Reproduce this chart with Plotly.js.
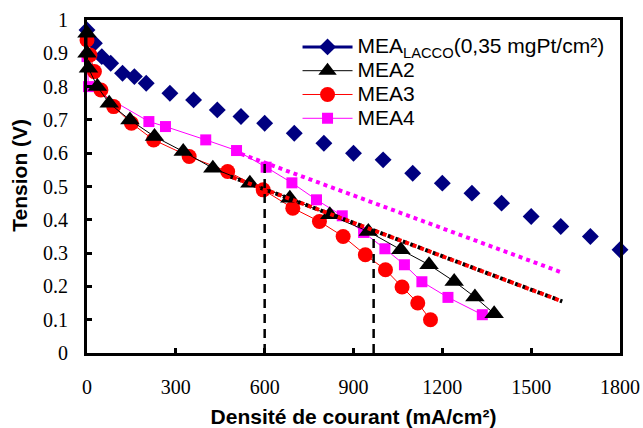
<!DOCTYPE html>
<html>
<head>
<meta charset="utf-8">
<script src="https://cdn.plot.ly/plotly-3.0.1.min.js"></script>
<style>html,body{margin:0;padding:0;background:#fff;}#chart{width:643px;height:428px;}</style>
</head>
<body>
<div id="chart"></div>
<script>
// Current density (mA/cm²) and voltage (V) for each MEA
const laccoX = [0, 25, 50, 80, 120, 160, 200, 280, 360, 440, 520, 600, 700, 800, 900, 1000, 1100, 1200, 1300, 1400, 1500, 1600, 1700, 1800];
const laccoY = [0.97, 0.93, 0.89, 0.87, 0.84, 0.83, 0.81, 0.78, 0.76, 0.73, 0.71, 0.69, 0.66, 0.63, 0.60, 0.58, 0.54, 0.51, 0.48, 0.45, 0.41, 0.38, 0.35, 0.31];

const mea2X = [0, 0, 5, 35, 75, 145, 228, 325, 425, 550, 685, 820, 950, 1060, 1155, 1240, 1310, 1375];
const mea2Y = [0.96, 0.90, 0.855, 0.80, 0.75, 0.70, 0.65, 0.605, 0.555, 0.51, 0.465, 0.415, 0.365, 0.31, 0.265, 0.215, 0.168, 0.118];

const mea3X = [0, 10, 25, 47, 90, 150, 225, 345, 475, 595, 695, 785, 865, 940, 1008, 1064, 1117, 1160];
const mea3Y = [0.94, 0.895, 0.845, 0.79, 0.74, 0.69, 0.64, 0.59, 0.545, 0.49, 0.435, 0.395, 0.35, 0.295, 0.25, 0.198, 0.15, 0.10];

const mea4X = [0, 5, 209, 265, 401, 505, 605, 692, 775, 862, 934, 1006, 1072, 1131, 1219, 1335];
const mea4Y = [0.89, 0.80, 0.695, 0.68, 0.64, 0.608, 0.558, 0.511, 0.46, 0.412, 0.362, 0.313, 0.265, 0.214, 0.167, 0.115];

// Linear trend lines (dotted)
const trend4X = [520, 1600], trend4Y = [0.598, 0.243];
const trend2X = [485, 1605], trend2Y = [0.530, 0.155];
const trend3X = [493, 1605], trend3Y = [0.5273, 0.155];

// Vertical dashed reference lines
const refX = [600, 968];
const refTop = [0.578, 0.369];

const xTicks = [0, 300, 600, 900, 1200, 1500, 1800];
const yTicks = [0, 0.1, 0.2, 0.3, 0.4, 0.5, 0.6, 0.7, 0.8, 0.9, 1];

const names = ['MEA<sub>LACCO</sub>(0,35 mgPt/cm²)', 'MEA2', 'MEA3', 'MEA4'];

const navy = '#000080', magenta = '#FF00FF', red = '#FF0000', black = '#000000';

const styles = {
  lacco: {line: {color: navy, width: 3}, marker: {symbol: 'diamond', size: 13, color: navy}},
  mea2: {line: {color: black, width: 1}, marker: {symbol: 'triangle-up', size: 17, color: black}},
  mea3: {line: {color: red, width: 1}, marker: {symbol: 'circle', size: 15, color: red}},
  mea4: {line: {color: magenta, width: 1}, marker: {symbol: 'square', size: 11, color: magenta}},
};

const traces = [
  {x: laccoX, y: laccoY, mode: 'markers', showlegend: false, cliponaxis: false, marker: styles.lacco.marker},
  {x: mea4X, y: mea4Y, mode: 'lines+markers', showlegend: false, cliponaxis: false, line: styles.mea4.line, marker: styles.mea4.marker},
  {x: mea3X, y: mea3Y, mode: 'lines+markers', showlegend: false, cliponaxis: false, line: styles.mea3.line, marker: styles.mea3.marker},
  {x: mea2X, y: mea2Y, mode: 'lines+markers', showlegend: false, cliponaxis: false, line: styles.mea2.line, marker: styles.mea2.marker},
  {x: trend4X, y: trend4Y, mode: 'lines', showlegend: false, line: {color: magenta, width: 4, dash: '4px,4px'}},
  {x: trend2X, y: trend2Y, mode: 'lines', showlegend: false, line: {color: black, width: 4, dash: '4px,4px'}},
  {x: trend3X, y: trend3Y, mode: 'lines', showlegend: false, line: {color: red, width: 4, dash: '4px,4px'}},
];
refX.forEach((rx, i) => {
  traces.push({x: [rx, rx], y: [0, refTop[i]], mode: 'lines', showlegend: false,
    line: {color: black, width: 2.5, dash: '9px,6px'}});
});
// legend entries
['lacco', 'mea2', 'mea3', 'mea4'].forEach((k, i) => {
  traces.push({x: [null], y: [null], mode: 'lines+markers', showlegend: true,
    name: '<span style="font-size:21px">' + names[i] + '</span>',
    line: styles[k].line, marker: styles[k].marker});
});

const tickFont = {family: '"Liberation Serif", "Times New Roman", serif', size: 20, color: '#000'};
const titleFont = {family: '"Liberation Sans", Arial, sans-serif', size: 21, color: '#000', weight: 'bold'};

const layout = {
  width: 643, height: 428,
  margin: {l: 87, r: 23, t: 20, b: 75},
  paper_bgcolor: '#fff', plot_bgcolor: '#fff',
  showlegend: true,
  legend: {x: 0.395, y: 0.97, xanchor: 'left', yanchor: 'top', bgcolor: 'rgba(0,0,0,0)',
           itemwidth: 50,
           font: {family: '"Liberation Sans", Arial, sans-serif', size: 16, color: '#000'}, tracegroupgap: 0},
  xaxis: {range: [0, 1800], tickvals: xTicks, ticktext: xTicks.map(String), showgrid: false, zeroline: false,
          showline: true, linecolor: '#000', linewidth: 3, mirror: true,
          ticks: 'inside', ticklen: 5, tickwidth: 3, tickcolor: '#000',
          tickfont: tickFont, ticklabelstandoff: 14,
          title: {text: 'Densité de courant (mA/cm²)', font: titleFont, standoff: 16}},
  yaxis: {range: [0, 1], tickvals: yTicks, ticktext: yTicks.map(String), showgrid: false, zeroline: false,
          showline: true, linecolor: '#000', linewidth: 3, mirror: true,
          ticks: 'inside', ticklen: 5, tickwidth: 3, tickcolor: '#000',
          tickfont: tickFont, ticklabelstandoff: 12},
  annotations: [{text: 'Tension (V)', textangle: -90, xref: 'paper', yref: 'paper',
                 x: -0.126, y: 0.535, xanchor: 'center', yanchor: 'middle', showarrow: false, font: titleFont}],
};

Plotly.newPlot('chart', traces, layout, {staticPlot: true, displayModeBar: false});
</script>
</body>
</html>
